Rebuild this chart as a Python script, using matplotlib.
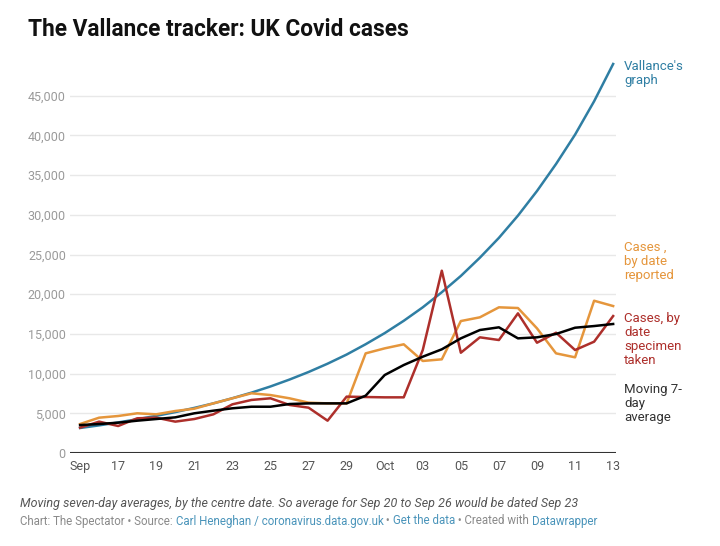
import numpy as np
import pandas as pd
import matplotlib
matplotlib.use("Agg")
import matplotlib.pyplot as plt

plt.rcParams['font.family'] = ['Roboto', 'DejaVu Sans']

# daily values, Sep 15 .. Oct 13
dates = pd.date_range("2020-09-15", "2020-10-13", freq="D")
vallance = [3150, 3480, 3850, 4250, 4680, 5150, 5680, 6250, 6900, 7600,
            8380, 9250, 10200, 11250, 12400, 13700, 15100, 16650, 18350, 20250,
            22300, 24600, 27100, 29900, 33000, 36400, 40100, 44300, 49000]
reported = [3650, 4450, 4660, 5000, 4870, 5290, 5580, 6250, 6890, 7520,
            7300, 6890, 6340, 6250, 6250, 12550, 13180, 13690, 11590, 11800,
            16620, 17090, 18350, 18260, 15700, 12550, 12050, 19180, 18510]
specimen = [3190, 3950, 3400, 4370, 4450, 3950, 4280, 4870, 6130, 6680,
            6890, 6050, 5710, 4070, 7100, 7050, 7010, 7010, 12970, 22960,
            12630, 14570, 14230, 17590, 13890, 15150, 12970, 14020, 17250]
avg7 = [3520, 3650, 3820, 4070, 4280, 4490, 5000, 5330, 5630, 5830,
        5830, 6170, 6250, 6250, 6250, 7220, 9820, 11080, 12130, 13060,
        14440, 15490, 15830, 14440, 14570, 14990, 15780, 15990, 16250]

xtick_labels = ["Sep", "17", "19", "21", "23", "25", "27", "29",
                "Oct", "03", "05", "07", "09", "11", "13"]
yticks = [0, 5000, 10000, 15000, 20000, 25000, 30000, 35000, 40000, 45000]

c_blue = "#2f7ea3"
c_orange = "#e5963c"
c_red = "#ad2f2b"
c_black = "#000000"

fig = plt.figure(figsize=(7.2, 5.46), dpi=100)
ax = fig.add_axes([70/720, 1 - 453/546, 546/720, 393/546])

x = np.arange(len(dates))
ax.plot(x, vallance, color=c_blue, lw=1.8, zorder=3)
ax.plot(x, reported, color=c_orange, lw=1.8, zorder=4)
ax.plot(x, specimen, color=c_red, lw=1.8, zorder=5)
ax.plot(x, avg7, color=c_black, lw=1.8, zorder=6)

ax.set_xlim(-0.53, 28.15)
ax.set_ylim(0, 49500)
ax.set_yticks(yticks)
ax.set_yticklabels([f"{v:,}" for v in yticks], color="#9a9a9a", fontsize=9)
ax.set_xticks(x[::2])
ax.set_xticklabels(xtick_labels, color="#555555", fontsize=9)
ax.tick_params(length=0, pad=5)
ax.tick_params(axis="y", pad=3)
for lab in ax.get_yticklabels():
    lab.set_horizontalalignment("right")
ax.grid(axis="y", color="#e8e8e8", lw=1, zorder=0)
ax.set_axisbelow(True)
for s in ax.spines.values():
    s.set_visible(False)
ax.axhline(0, color="#333333", lw=1.5, zorder=2)

# line labels on the right
lx = 624/720
fig.text(lx, 1 - 73.5/546, "Vallance's\ngraph", color=c_blue, fontsize=9.5,
         va="center", ha="left", linespacing=1.1)
fig.text(lx, 1 - 261/546, "Cases ,\nby date\nreported", color=c_orange, fontsize=9.5,
         va="center", ha="left", linespacing=1.1)
fig.text(lx, 1 - 339.5/546, "Cases, by\ndate\nspecimen\ntaken", color=c_red, fontsize=9.5,
         va="center", ha="left", linespacing=1.1)
fig.text(lx, 1 - 403/546, "Moving 7-\nday\naverage", color="#333333", fontsize=9.5,
         va="center", ha="left", linespacing=1.1)

# title
fig.text(28/720, 1 - 30/546, "The Vallance tracker: UK Covid cases",
         fontsize=16.3, fontweight="bold", color="#111111", va="center", ha="left")

# footer
fig.text(20/720, 1 - 503/546,
         "Moving seven-day averages, by the centre date. So average for Sep 20 to Sep 26 would be dated Sep 23",
         fontsize=9, style="italic", color="#555555", va="center", ha="left")

parts = [("Chart: The Spectator \u2022 Source: ", "#8a8a8a"),
         ("Carl Heneghan / coronavirus.data.gov.uk", "#4a94ba"),
         (" \u2022 ", "#8a8a8a"),
         ("Get the data", "#4a94ba"),
         (" \u2022 Created with ", "#8a8a8a"),
         ("Datawrapper", "#4a94ba")]
fig.canvas.draw()
renderer = fig.canvas.get_renderer()
xpos = 20/720
for txt, col in parts:
    t = fig.text(xpos, 1 - 521/546, txt, fontsize=8.3, color=col, va="center", ha="left")
    bb = t.get_window_extent(renderer=renderer)
    xpos = (bb.x1) / fig.bbox.width

fig.savefig("out.png", dpi=100)
